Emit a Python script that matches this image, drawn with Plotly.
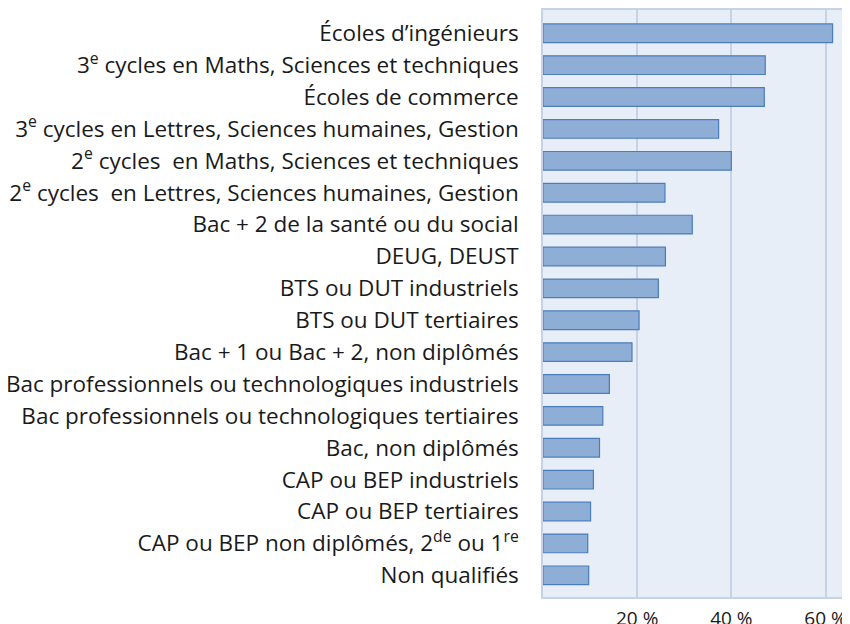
import plotly.graph_objects as go

categories = [
    "Écoles d’ingénieurs",
    "3<sup>e</sup> cycles en Maths, Sciences et techniques",
    "Écoles de commerce",
    "3<sup>e</sup> cycles en Lettres, Sciences humaines, Gestion",
    "2<sup>e</sup> cycles  en Maths, Sciences et techniques",
    "2<sup>e</sup> cycles  en Lettres, Sciences humaines, Gestion",
    "Bac + 2 de la santé ou du social",
    "DEUG, DEUST",
    "BTS ou DUT industriels",
    "BTS ou DUT tertiaires",
    "Bac + 1 ou Bac + 2, non diplômés",
    "Bac professionnels ou technologiques industriels",
    "Bac professionnels ou technologiques tertiaires",
    "Bac, non diplômés",
    "CAP ou BEP industriels",
    "CAP ou BEP tertiaires",
    "CAP ou BEP non diplômés, 2<sup>de</sup> ou 1<sup>re</sup>",
    "Non qualifiés",
]
values = [61.5, 47.2, 47.0, 37.3, 40.0, 25.9, 31.7, 26.0, 24.5, 20.4,
          18.9, 14.1, 12.7, 12.0, 10.7, 10.1, 9.5, 9.7]
tick_vals = [20, 40, 60]
tick_text = ["20 %", "40 %", "60 %"]

fig = go.Figure(go.Bar(
    y=categories, x=values, orientation="h",
    width=0.585,
    marker=dict(color="#8FAED6", line=dict(color="#4A7CBE", width=1.2)),
))

# the page body adds an 8px offset, so the figure is sized to fill the window
fig.update_layout(
    width=842, height=616,
    margin=dict(l=535, r=0, t=2, b=27, autoexpand=False),
    paper_bgcolor="white",
    plot_bgcolor="#E8EEF7",
    showlegend=False,
    font=dict(family="Open Sans, Noto Sans, sans-serif", size=22.5, color="#1a1a1a"),
    bargap=0.4,
)
fig.update_xaxes(
    range=[0, 65.2], tickvals=tick_vals, ticktext=tick_text,
    showgrid=True, gridcolor="#C6D3E6", gridwidth=1.5,
    showline=True, linecolor="#C6D3E6", linewidth=1.5, mirror=True,
    zeroline=False, ticks="", tickfont=dict(size=19), ticklabelstandoff=3,
    automargin=False,
)
fig.update_yaxes(
    type="category", categoryorder="array", categoryarray=categories,
    range=[17.68, -0.73], automargin=False,
    showgrid=False, showline=True, linecolor="#C6D3E6", linewidth=1.5,
    ticks="", ticklabelstandoff=18,
)

fig.write_html("out.html")
